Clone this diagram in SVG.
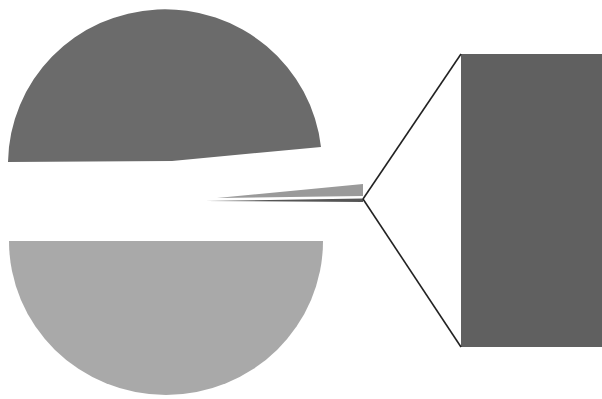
<svg xmlns="http://www.w3.org/2000/svg" width="602" height="399" viewBox="0 0 602 399">
<style>
.c{stroke:#222;stroke-width:1.6;fill:none}
</style>
<rect width="602" height="399" fill="#ffffff"/>
<g id="slice-top"><path d="M 8 162 L 172 161 L 321 147 A 157 155 0 0 0 8 162 Z" fill="#6b6b6b"/></g>
<g id="slice-bottom"><path d="M 9 241 L 323 241 A 157 154 0 0 1 9 241 Z" fill="#a9a9a9"/></g>
<g id="slice-small"><polygon points="217,198 363,184 363,196" fill="#9a9a9a"/></g>
<g id="slice-tiny"><polygon points="205,201 363,198.5 363,202" fill="#555"/></g>
<g id="bar"><rect x="461" y="54" width="145" height="293" fill="#606060"/></g>
<g id="connectors">
<line class="c" x1="363" y1="199" x2="461" y2="54"/>
<line class="c" x1="363" y1="199" x2="461" y2="347"/>
</g>
</svg>
